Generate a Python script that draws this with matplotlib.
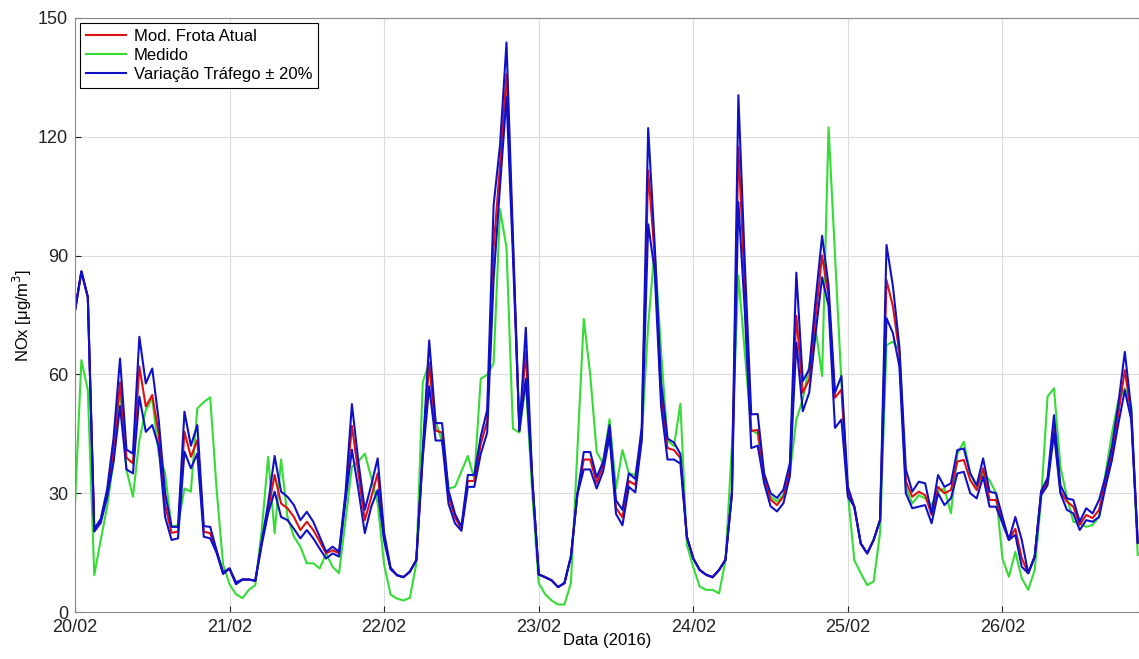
import matplotlib
matplotlib.use('Agg')
import matplotlib.pyplot as plt

# Hourly NOx series, 20/02/2016 00h onwards
hours = list(range(166))

medido = [27, 63.6, 56, 9.3, 18.2, 26.6, 38.4, 56.5, 35.9, 29.1, 43.4, 51, 54, 40, 35, 21.5, 22, 31.2, 30.4, 51.4,
          53, 54.2, 30.8, 12, 7, 4.5, 3.5, 5.6, 6.8, 20.7, 39.2, 19.9, 38.5, 24, 19, 16.5, 12.3, 12.3, 11, 14.8,
          11.4, 9.8, 23, 36.7, 38, 40, 34, 27.4, 12, 4.4, 3.4, 2.9, 3.6, 12.2, 58, 63, 48.2, 43, 31.2, 31.6,
          35.5, 39.4, 33.6, 58.9, 59.9, 62.8, 101.7, 92, 46.3, 45.3, 58, 30, 7.3, 4.5, 2.9, 1.9, 1.9, 7.3, 40.4, 74,
          59.9, 40.4, 37.5, 48.7, 31.2, 40.9, 35, 34.6, 44.3, 72.5, 91.5, 66, 43.3, 41.9, 52.6, 17, 11.3, 6.4, 5.6, 5.6,
          4.7, 13, 42, 85, 65.5, 46, 45, 32.6, 29.2, 27.9, 29.6, 35.1, 48.6, 53.7, 62.1, 71.4, 59.6, 122.4, 90, 58,
          30, 13.1, 9.8, 6.8, 7.7, 20, 67.4, 68.3, 66, 31.6, 27.4, 29.5, 28.7, 27, 30.4, 31.2, 24.9, 40, 43, 35,
          31.6, 35, 33.3, 30, 13.5, 8.9, 15.2, 8.5, 5.6, 10.6, 28.3, 54.4, 56.5, 36.7, 29.1, 22.8, 22.4, 21.5, 22, 24,
          35, 45.1, 53.5, 56.5, 51.9, 14.4]

frota_atual = [76, 86, 79.5, 20.7, 23, 30, 41, 58, 39, 37.5, 62, 51.9, 54.8, 45, 27, 20, 20.3, 45.5, 39.2, 43.4,
               20.3, 19.9, 15.2, 9.8, 11, 7.2, 8.2, 8.2, 7.9, 17.5, 26, 34.6, 27.4, 26.2, 24, 20.7, 22.8, 20.7, 17.8, 14.8,
               15.6, 14.8, 29, 47, 35, 23.2, 29, 35, 19, 11, 9.3, 8.8, 10.2, 13.1, 40, 62.8, 45.8, 45.3, 29.2, 23.9,
               21, 33.1, 33.1, 42.4, 48.2, 92, 113, 135.8, 93, 45.8, 65.7, 33.6, 9.5, 8.8, 8, 6.3, 7.3, 14, 29.7, 38.5,
               38.5, 32.6, 37, 45.3, 26.3, 23.9, 33.1, 32.1, 45.3, 111.5, 90, 55, 41.4, 40.9, 38.9, 19, 13.5, 10.6, 9.4, 8.8,
               10.6, 13.2, 30, 117.4, 82, 45.7, 46, 33.8, 28.4, 27, 29.2, 36, 74.8, 55.4, 58.7, 74.8, 90, 79.8, 54.1, 56.2,
               30, 26.6, 17.3, 14.8, 18.2, 23.2, 83.8, 77.1, 65.3, 33, 29.1, 30.4, 29.5, 24.5, 31.6, 30, 30.8, 38, 38.4, 33.3,
               30.8, 36.3, 28.3, 28.3, 23, 18.2, 21, 13.6, 9.8, 14, 30, 32.9, 46.8, 30.4, 27.9, 26.6, 22, 24.5, 23.7, 25.8,
               32.9, 40, 50.2, 61.1, 50, 17.5]

trafego_mais20 = [76, 86, 79.5, 21, 23.5, 31, 44, 64, 41, 40, 69.5, 57.7, 61.5, 48.5, 30, 21.5, 21.5, 50.6, 42, 47.2,
                  21.7, 21.5, 15.5, 10, 11, 7.5, 8.2, 8.2, 7.9, 18, 27.5, 39.4, 30.4, 29.1, 27, 23.2, 25.3, 22.8, 19, 15.2,
                  16.5, 15.2, 30, 52.5, 38, 25.8, 32, 38.8, 20, 11.2, 9.3, 8.8, 10.2, 13.1, 41, 68.6, 47.7, 47.7, 30.7, 24.8,
                  21.5, 34.6, 34.6, 44.3, 51, 102.7, 118, 143.8, 95, 45.8, 71.8, 33.6, 9.5, 8.8, 8, 6.3, 7.3, 14, 29.7, 40.4,
                  40.4, 34, 38, 47.2, 28.2, 25.8, 35, 33.6, 46.7, 122.2, 93, 58, 43.8, 42.8, 39.9, 19, 13.5, 10.6, 9.4, 8.8,
                  10.6, 13.2, 30, 130.5, 88, 49.9, 50, 35, 30, 28.8, 30.9, 37.6, 85.7, 58.3, 61.3, 79, 95, 82.4, 55.4, 59.6,
                  31.6, 26.6, 17.3, 14.8, 18.2, 23.2, 92.7, 82.2, 67, 36, 30.4, 32.9, 32.5, 24.9, 34.6, 31.6, 32.5, 40.9, 41.3, 35,
                  32, 38.8, 30.4, 30, 24, 18.2, 24, 18.2, 9.8, 14, 30.5, 33.8, 49.7, 32, 28.7, 28.3, 22.8, 26.2, 24.9, 28.3,
                  34.2, 41.8, 52.7, 65.7, 51, 17.5]

trafego_menos20 = [76, 86, 79.5, 20.3, 22.5, 29, 38, 52, 36, 35, 54.4, 45.5, 47.2, 41.8, 24, 18.2, 18.6, 40.5, 36.3, 40,
                   19, 18.6, 14.9, 9.6, 11, 7, 8.2, 8.2, 7.9, 17, 25, 30.4, 24, 23.2, 21, 18.6, 20.7, 18.6, 16, 13.5,
                   14.8, 14, 28, 41, 31, 19.9, 26.6, 30.8, 18, 10.8, 9.3, 8.8, 10.2, 13.1, 39, 57, 43.3, 43.3, 27.3, 22.4,
                   20.5, 31.6, 31.6, 39.9, 45.3, 84, 107.6, 130, 90, 45.8, 58.9, 33.6, 9.5, 8.8, 8, 6.3, 7.3, 14, 29.7, 36,
                   36, 31.2, 35.5, 44.3, 24.8, 21.9, 31.6, 30.2, 43.3, 97.9, 86.2, 52, 38.5, 38.5, 37.5, 19, 13.5, 10.6, 9.4, 8.8,
                   10.6, 13.2, 30, 103.5, 76, 41.4, 42, 32.6, 26.7, 25.4, 27.5, 34.3, 68, 50.7, 55.4, 70.5, 84.5, 77.3, 46.5, 48.6,
                   29.1, 26.6, 17.3, 14.8, 18.2, 23.2, 74.2, 70.4, 62, 30, 26.2, 26.6, 27, 22.4, 30, 27, 28.7, 35, 35.4, 30,
                   28.7, 34.2, 26.6, 26.6, 22.4, 18.2, 19.5, 11.4, 9.8, 13.8, 29.5, 32, 45.1, 30, 25.8, 24.9, 20.7, 23.2, 22.8, 24,
                   31.6, 38.4, 47.6, 56, 48.5, 17.5]

day_labels = ['20/02', '21/02', '22/02', '23/02', '24/02', '25/02', '26/02']
y_ticks = [0, 30, 60, 90, 120, 150]

plt.rcParams['font.family'] = ['Liberation Sans', 'DejaVu Sans']

fig = plt.figure(figsize=(11.39, 6.59), dpi=100)
ax = fig.add_axes([0.0658, 0.0713, 0.9342, 0.9014])

l_green, = ax.plot(hours, medido, color='#33dd33', lw=1.5)
l_red, = ax.plot(hours, frota_atual, color='#e01010', lw=1.5)
l_blue, = ax.plot(hours, trafego_mais20, color='#1010c8', lw=1.5)
ax.plot(hours, trafego_menos20, color='#1010c8', lw=1.5)

ax.set_xlim(0, 165.2)
ax.set_ylim(0, 150)
ax.set_xticks([24 * i for i in range(len(day_labels))])
ax.set_xticklabels(day_labels)
ax.set_yticks(y_ticks)
ax.tick_params(direction='in', labelsize=13, length=4, colors='#222222')
ax.tick_params(axis='x', pad=5)
ax.tick_params(axis='y', pad=5)
ax.grid(True, color='#dcdcdc', lw=0.8)
ax.set_axisbelow(True)
for s in ax.spines.values():
    s.set_color('#888888')

ax.set_xlabel('Data (2016)', fontsize=12, labelpad=-2)
ax.set_ylabel('NOx [μg/m$^3$]', fontsize=12, labelpad=3)

leg = ax.legend([l_red, l_green, l_blue], ['Mod. Frota Atual', 'Medido', 'Variação Tráfego ± 20%'],
                loc='upper left', fontsize=12, fancybox=False, framealpha=1, edgecolor='black',
                handlelength=2.4, handletextpad=0.5, borderaxespad=0.3, labelspacing=0.25, borderpad=0.35)
leg.get_frame().set_linewidth(0.8)

fig.savefig('out.png', dpi=100)
